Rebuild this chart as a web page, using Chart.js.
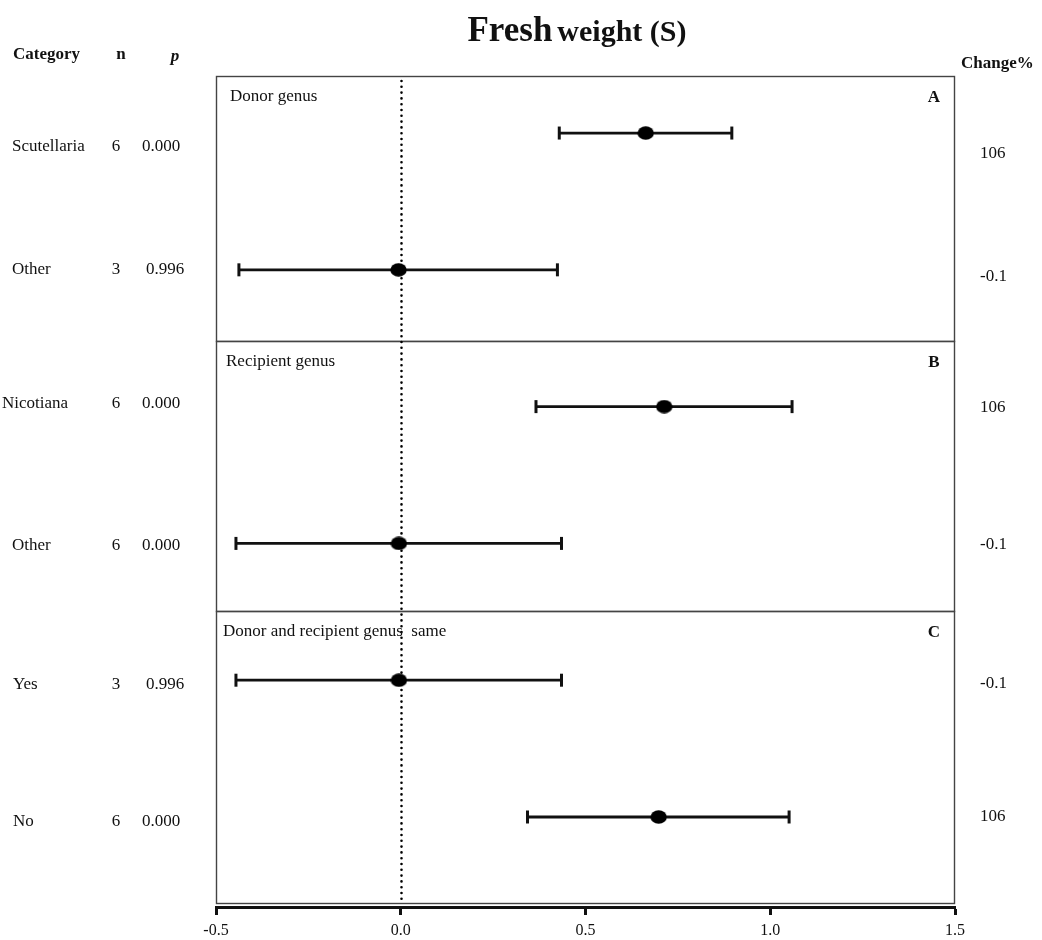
<!DOCTYPE html>
<html>
<head>
<meta charset="utf-8">
<script src="https://cdn.jsdelivr.net/npm/chart.js@4.4.1/dist/chart.umd.min.js"></script>
<style>
  html, body { margin: 0; padding: 0; background: #ffffff; }
  #wrap { width: 1042px; height: 940px; position: relative; }
</style>
</head>
<body>
<div id="wrap"><canvas id="forest"></canvas></div>
<script>
// ---- Data -------------------------------------------------------------
const categories = ['Scutellaria', 'Other', 'Nicotiana', 'Other', 'Yes', 'No'];
const nValues    = [6, 3, 6, 6, 3, 6];
const pValues    = ['0.000', '0.996', '0.000', '0.000', '0.996', '0.000'];
const effect     = [0.663, -0.006, 0.713, -0.005, -0.005, 0.698];
const ciLow      = [0.429, -0.438, 0.366, -0.446, -0.446, 0.343];
const ciHigh     = [0.896, 0.424, 1.059, 0.435, 0.435, 1.051];
const changePct  = ['106', '-0.1', '106', '-0.1', '-0.1', '106'];
const panelTitles = ['Donor genus', 'Recipient genus', 'Donor and recipient genus  same'];
const panelTags   = ['A', 'B', 'C'];
const xTicks      = [-0.5, 0.0, 0.5, 1.0, 1.5];

// ---- Layout helpers (row index is the y value) -------------------------
const rows = categories.map((_, i) => i);
const yMin = -0.417, yMax = 5.658;
const panelEdges = [yMin, 1.52, 3.494];          // top of each panel, in row units
const labelShift  = [13, 0, -3, 2, 4, 5];         // px nudges of left-hand text
const changeShift = [20, 7, 1, 1, 3, 0];          // px nudges of Change% text
const labelX      = [12, 12, 2, 12, 13, 13];

const SERIF = '"Liberation Serif", "Times New Roman", serif';

// elliptical marker for the point estimates
function ellipseMarker(w, h) {
  const c = document.createElement('canvas');
  c.width = w; c.height = h;
  const g = c.getContext('2d');
  g.fillStyle = '#000';
  g.beginPath();
  g.ellipse(w / 2, h / 2, w / 2 - 0.3, h / 2 - 0.3, 0, 0, Math.PI * 2);
  g.fill();
  return c;
}
const marker = ellipseMarker(17, 14);

// ---- Datasets ----------------------------------------------------------
const datasets = [{
  type: 'scatter',
  label: 'Effect',
  data: rows.map(i => ({ x: effect[i], y: i })),
  pointStyle: marker,
  pointRadius: 8,
  pointHoverRadius: 8,
  clip: false
}];
rows.forEach(i => {
  datasets.push({
    type: 'line',
    label: categories[i] + ' CI',
    data: [{ x: ciLow[i], y: i }, { x: ciHigh[i], y: i }],
    borderColor: '#111',
    borderWidth: 2.8,
    pointStyle: 'line',
    rotation: 90,
    pointRadius: 6.5,
    pointHoverRadius: 6.5,
    pointBorderWidth: 3,
    pointBorderColor: '#111',
    fill: false,
    clip: false
  });
});

// ---- Panel frames, zero line and the surrounding text --------------------
const forestDecor = {
  id: 'forestDecor',
  beforeDatasetsDraw(chart) {
    const { ctx, chartArea: a, scales: { x, y } } = chart;
    ctx.save();
    // panel frames
    ctx.strokeStyle = '#444';
    ctx.lineWidth = 1.4;
    const bottom = a.bottom - 4;
    for (let k = 0; k < panelEdges.length; k++) {
      const top = y.getPixelForValue(panelEdges[k]);
      const bot = k + 1 < panelEdges.length ? y.getPixelForValue(panelEdges[k + 1]) : bottom;
      ctx.strokeRect(a.left + 0.5, top + 0.5, a.right - a.left - 1, bot - top);
    }
    // dotted zero line
    const x0 = Math.round(x.getPixelForValue(0)) + 0.5;
    ctx.strokeStyle = '#000';
    ctx.lineWidth = 2.6;
    ctx.lineCap = 'round';
    ctx.setLineDash([0, 5.8]);
    ctx.beginPath();
    ctx.moveTo(x0, a.top + 5);
    ctx.lineTo(x0, bottom - 3);
    ctx.stroke();
    ctx.setLineDash([]);

    // panel titles and tags
    ctx.fillStyle = '#111';
    ctx.textBaseline = 'middle';
    for (let k = 0; k < panelEdges.length; k++) {
      const top = y.getPixelForValue(panelEdges[k]);
      ctx.font = '17px ' + SERIF;
      ctx.textAlign = 'left';
      ctx.fillText(panelTitles[k], a.left + (k === 0 ? 14 : k === 1 ? 10 : 7), top + 21);
      ctx.font = 'bold 17px ' + SERIF;
      ctx.textAlign = 'center';
      ctx.fillText(panelTags[k], a.right - 21, top + 22);
    }
    ctx.restore();
  },
  afterDraw(chart) {
    const { ctx, scales: { y } } = chart;
    ctx.save();
    ctx.fillStyle = '#111';

    // title: "Fresh" larger than "weight (S)"
    ctx.textAlign = 'left';
    ctx.textBaseline = 'alphabetic';
    ctx.font = 'bold 35px ' + SERIF;
    const w1 = ctx.measureText('Fresh').width;
    ctx.font = 'bold 30px ' + SERIF;
    const w2 = ctx.measureText('weight (S)').width;
    const start = 577 - (w1 + 5 + w2) / 2;
    ctx.font = 'bold 35px ' + SERIF;
    ctx.fillText('Fresh', start, 41);
    ctx.font = 'bold 30px ' + SERIF;
    ctx.fillText('weight (S)', start + w1 + 5, 41);

    // column headers
    ctx.textBaseline = 'middle';
    ctx.font = 'bold 17px ' + SERIF;
    ctx.fillText('Category', 13, 55);
    ctx.textAlign = 'center';
    ctx.fillText('n', 121, 55);
    ctx.font = 'bold italic 17px ' + SERIF;
    ctx.fillText('p', 175, 57);
    ctx.font = 'bold 17px ' + SERIF;
    ctx.textAlign = 'left';
    ctx.fillText('Change%', 961, 64);

    // per-row text
    ctx.font = '17px ' + SERIF;
    rows.forEach(i => {
      const py = y.getPixelForValue(i);
      const ly = py + labelShift[i];
      ctx.textAlign = 'left';
      ctx.fillText(categories[i], labelX[i], ly);
      ctx.textAlign = 'center';
      ctx.fillText(String(nValues[i]), 116, ly);
      ctx.textAlign = 'left';
      ctx.fillText(pValues[i], pValues[i] === '0.996' ? 146 : 142, ly);
      ctx.fillText(changePct[i], 980, py + changeShift[i]);
    });
    ctx.restore();
  }
};

// ---- Chart -------------------------------------------------------------
new Chart(document.getElementById('forest'), {
  data: { datasets },
  options: {
    responsive: true,
    maintainAspectRatio: false,
    animation: false,
    events: [],
    layout: { padding: { left: 216, right: 87, top: 76, bottom: 0 } },
    plugins: { legend: { display: false }, tooltip: { enabled: false } },
    scales: {
      x: {
        type: 'linear',
        min: -0.5,
        max: 1.5,
        afterBuildTicks: s => { s.ticks = xTicks.map(v => ({ value: v })); },
        afterFit: s => { s.height = 33; },
        ticks: {
          color: '#111',
          padding: 6,
          font: { family: SERIF, size: 16 },
          callback: v => Number(v).toFixed(1)
        },
        grid: {
          drawOnChartArea: false,
          drawTicks: true,
          tickLength: 8,
          tickWidth: 3,
          tickColor: '#111'
        },
        border: { display: true, color: '#111', width: 3 }
      },
      y: {
        type: 'linear',
        display: false,
        reverse: true,
        min: yMin,
        max: yMax
      }
    }
  },
  plugins: [forestDecor]
});
</script>
</body>
</html>
